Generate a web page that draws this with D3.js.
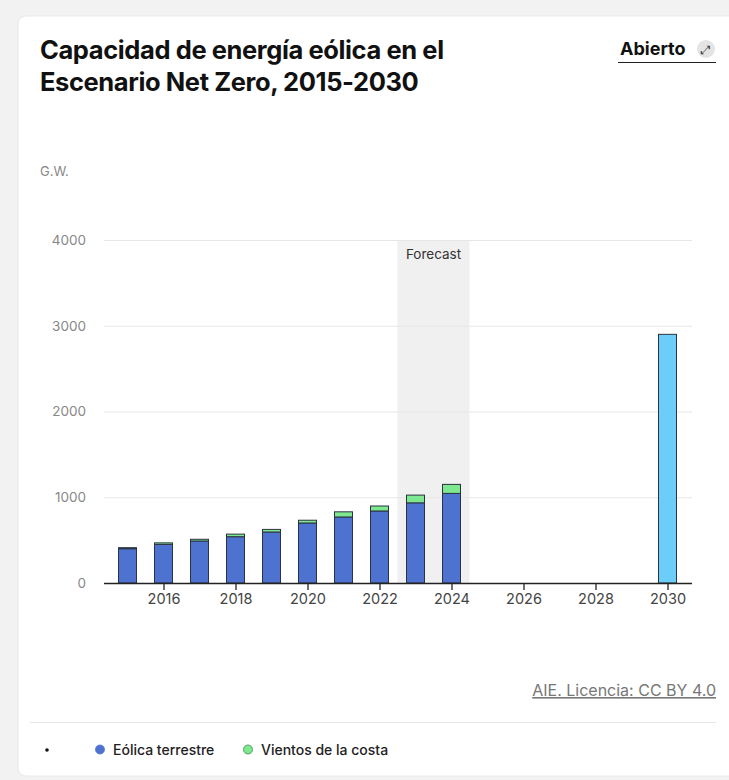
<!DOCTYPE html>
<html>
<head>
<meta charset="utf-8">
<script src="https://cdn.jsdelivr.net/npm/d3@7"></script>
<style>
  html, body { margin: 0; padding: 0; background: #f2f2f2; }
  svg { display: block; }
</style>
</head>
<body>
<svg id="chart" width="729" height="780"></svg>
<script>
// Wind capacity (GW) by year, Net Zero scenario
const years = [2015, 2016, 2017, 2018, 2019, 2020, 2021, 2022, 2023, 2024];
const onshore = [400, 450, 490, 540, 595, 700, 770, 840, 935, 1045];
const offshore = [12, 18, 20, 30, 30, 32, 60, 58, 90, 105];
const targetYears = [2030];
const targetTotal = [2900];
const yTicks = [0, 1000, 2000, 3000, 4000];
const xTicks = [2016, 2018, 2020, 2022, 2024, 2026, 2028, 2030];
const forecastRange = [2022.5, 2024.5];
const seriesNames = ["", "Eólica terrestre", "Vientos de la costa"];

const FONT = "Inter, 'Noto Sans', sans-serif";
const svg = d3.select("#chart");

// card
svg.append("rect").attr("x", 18).attr("y", 16).attr("width", 730).attr("height", 760)
  .attr("rx", 8).attr("fill", "#fff").attr("stroke", "#e9e9e9");

// title
const title = svg.append("text").attr("font-family", FONT).attr("font-weight", 700)
  .attr("font-size", 25.5).attr("fill", "#111").attr("letter-spacing", -0.4);
title.append("tspan").attr("x", 40).attr("y", 59).text("Capacidad de energía eólica en el");
title.append("tspan").attr("x", 40).attr("y", 91).text("Escenario Net Zero, 2015-2030");

// "Abierto" link
svg.append("text").attr("x", 620).attr("y", 55).attr("font-family", FONT).attr("font-weight", 700)
  .attr("font-size", 18).attr("fill", "#111").text("Abierto");
svg.append("line").attr("x1", 618).attr("x2", 716).attr("y1", 62.5).attr("y2", 62.5)
  .attr("stroke", "#222").attr("stroke-width", 1.2);
svg.append("circle").attr("cx", 706).attr("cy", 49).attr("r", 9).attr("fill", "#e4e4e4");
svg.append("text").attr("x", 706).attr("y", 53.5).attr("text-anchor", "middle")
  .attr("font-family", "DejaVu Sans").attr("font-size", 12).attr("fill", "#333").text("⤢");

// scales
const x = d3.scaleLinear().domain([2015, 2030]).range([127.5, 667.5]);
const y = d3.scaleLinear().domain([0, 4000]).range([583, 240]);
const barW = 18;

// unit label
svg.append("text").attr("x", 40).attr("y", 176).attr("font-family", FONT)
  .attr("font-size", 13).attr("fill", "#888").text("G.W.");

// forecast band
svg.append("rect").attr("x", x(forecastRange[0])).attr("width", x(forecastRange[1]) - x(forecastRange[0]))
  .attr("y", y(4000)).attr("height", y(0) - y(4000)).attr("fill", "#f0f0f0");
svg.append("text").attr("x", (x(forecastRange[0]) + x(forecastRange[1])) / 2).attr("y", 259)
  .attr("text-anchor", "middle").attr("font-family", FONT).attr("font-size", 13.5)
  .attr("fill", "#333").text("Forecast");

// y grid + labels
const yAxis = svg.append("g").attr("transform", "translate(104,0)")
  .call(d3.axisLeft(y).tickValues(yTicks).tickSize(-588).tickPadding(18).tickFormat(d3.format("d")));
yAxis.select(".domain").remove();
yAxis.selectAll(".tick line").attr("stroke", d => d === 0 ? "none" : "#e6e6e6");
yAxis.selectAll(".tick text").attr("font-family", FONT).attr("font-size", 13.5).attr("fill", "#888");

// stacked bars
const stacked = d3.stack().keys(["onshore", "offshore"])(
  years.map((yr, i) => ({ year: yr, onshore: onshore[i], offshore: offshore[i] })));
const colors = { onshore: "#4d72d0", offshore: "#7ee890" };
stacked.forEach(layer => {
  svg.append("g").selectAll("rect").data(layer).join("rect")
    .attr("x", d => x(d.data.year) - barW / 2).attr("width", barW)
    .attr("y", d => y(d[1])).attr("height", d => y(d[0]) - y(d[1]))
    .attr("fill", colors[layer.key]).attr("stroke", "#2b3340").attr("stroke-width", 1);
});

// 2030 target bar
svg.append("g").selectAll("rect").data(targetYears).join("rect")
  .attr("x", d => x(d) - barW / 2).attr("width", barW)
  .attr("y", (d, i) => y(targetTotal[i])).attr("height", (d, i) => y(0) - y(targetTotal[i]))
  .attr("fill", "#6bcdf8").attr("stroke", "#2b3340").attr("stroke-width", 1);

// x axis
const xAxis = svg.append("g").attr("transform", `translate(0,${y(0)})`)
  .call(d3.axisBottom(x).tickValues(xTicks).tickSize(7).tickPadding(4).tickFormat(d3.format("d")));
xAxis.select(".domain").attr("d", "M104,0.5H692").attr("stroke", "#222").attr("stroke-width", 1.3);
xAxis.selectAll(".tick line").attr("stroke", "#222").attr("stroke-width", 1.3);
xAxis.selectAll(".tick text").attr("font-family", FONT).attr("font-size", 14.5).attr("fill", "#444");

// source
svg.append("text").attr("x", 716).attr("y", 696).attr("text-anchor", "end")
  .attr("font-family", FONT).attr("font-size", 16).attr("fill", "#777")
  .attr("text-decoration", "underline").text("AIE. Licencia: CC BY 4.0");

// separator
svg.append("line").attr("x1", 30).attr("x2", 716).attr("y1", 722.5).attr("y2", 722.5)
  .attr("stroke", "#e6e6e6");

// legend
svg.append("circle").attr("cx", 47).attr("cy", 750).attr("r", 1.8).attr("fill", "#111");
svg.append("text").attr("x", 55).attr("y", 754).attr("font-family", FONT).attr("font-size", 13).text(seriesNames[0]);
const legendItems = [
  { name: seriesNames[1], fill: "#4d72d0", stroke: "#4d72d0", cx: 100 },
  { name: seriesNames[2], fill: "#7ee890", stroke: "#3a8a4a", cx: 248 }
];
legendItems.forEach(it => {
  svg.append("circle").attr("cx", it.cx).attr("cy", 749.5).attr("r", 4.5)
    .attr("fill", it.fill).attr("stroke", it.stroke).attr("stroke-width", 0.8);
  svg.append("text").attr("x", it.cx + 13).attr("y", 754.5).attr("font-family", FONT)
    .attr("font-size", 14).attr("font-weight", 500).attr("fill", "#222").text(it.name);
});
</script>
</body>
</html>
